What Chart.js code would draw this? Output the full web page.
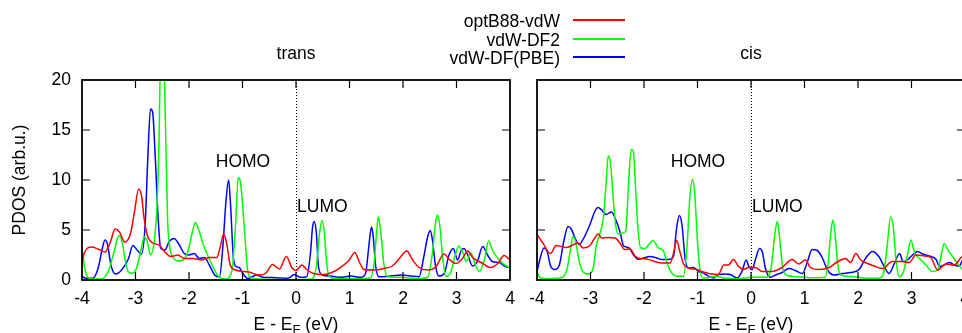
<!DOCTYPE html>
<html><head><meta charset="utf-8">
<script src="https://cdn.jsdelivr.net/npm/chart.js@4.4.1/dist/chart.umd.min.js"></script>
<style>
html,body{margin:0;padding:0;background:#fff;}
body{width:962px;height:333px;overflow:hidden;position:relative;font-family:"Liberation Sans",Arial,sans-serif;color:#000;}
canvas{position:absolute;top:0;}
#cTrans{left:0;}
#cCis{left:520px;}
.leg{position:absolute;left:340px;width:220px;text-align:right;font-size:17.5px;line-height:20px;white-space:nowrap;}
.sw{position:absolute;left:573px;width:52px;height:2px;}
.xt{position:absolute;top:313.5px;width:200px;text-align:center;font-size:17.5px;line-height:20px;white-space:nowrap;}
.xt sub{font-size:13px;vertical-align:-4px;line-height:0;}
</style></head>
<body>
<canvas id="cTrans" width="520" height="333"></canvas>
<canvas id="cCis" width="451" height="333"></canvas>
<div class="leg" style="top:10.5px">optB88-vdW</div>
<div class="leg" style="top:29.5px">vdW-DF2</div>
<div class="leg" style="top:48px">vdW-DF(PBE)</div>
<div class="sw" style="top:19px;background:#ff0000"></div>
<div class="sw" style="top:38px;background:#00ff00"></div>
<div class="sw" style="top:56px;background:#0000ff"></div>
<div class="xt" style="left:196px">E - E<sub>F</sub> (eV)</div>
<div class="xt" style="left:651px">E - E<sub>F</sub> (eV)</div>
<script>
// ---- data: [E - E_F (eV), PDOS (arb.u.)] ----
const seriesNames = ['optB88-vdW', 'vdW-DF2', 'vdW-DF(PBE)'];
const panelTitles = ['trans', 'cis'];
const xTickRange = [-4, 4];
const yTickRange = [0, 20];

const transOpt = [[-4,1.4],[-3.98,2.3],[-3.82,3.3],[-3.7,3.1],[-3.57,2.8],[-3.47,3.8],[-3.38,5.1],[-3.3,4.8],[-3.2,3.8],[-3.09,4.7],[-3.02,6.8],[-2.94,9.1],[-2.89,8.5],[-2.84,6.2],[-2.78,4.5],[-2.68,3.7],[-2.56,3.5],[-2.45,2.8],[-2.34,2.35],[-2.21,2.5],[-2.08,2.15],[-1.92,2.15],[-1.77,2.0],[-1.61,2.25],[-1.48,2.25],[-1.42,3.2],[-1.35,4.6],[-1.29,3.5],[-1.23,1.5],[-1.13,1.0],[-0.88,0.8],[-0.69,0.5],[-0.56,0.7],[-0.44,1.55],[-0.31,1.1],[-0.18,2.35],[-0.08,1.25],[0,0.95],[0.11,1.5],[0.2,1.05],[0.33,0.65],[0.52,0.55],[0.71,0.85],[0.89,1.5],[0.99,1.95],[1.1,2.75],[1.18,1.85],[1.27,1.05],[1.46,1.0],[1.64,1.15],[1.8,1.4],[1.93,2.15],[2.07,2.9],[2.18,2.0],[2.3,1.25],[2.46,1.0],[2.61,1.3],[2.77,2.6],[2.86,2.1],[2.99,1.65],[3.11,2.15],[3.21,2.9],[3.3,2.25],[3.46,1.75],[3.64,1.25],[3.77,1.65],[3.89,2.45],[4,2.0]];
const transDF2 = [[-4,3.2],[-3.95,1.2],[-3.89,0.25],[-3.8,0.1],[-3.64,0.1],[-3.51,0.85],[-3.4,2.85],[-3.31,4.45],[-3.25,3.85],[-3.2,2.2],[-3.14,0.85],[-3.06,0.65],[-2.97,1.35],[-2.89,3.2],[-2.84,4.3],[-2.78,3.85],[-2.72,2.5],[-2.65,3.85],[-2.6,7.2],[-2.56,14],[-2.54,20.5],[-2.5,24],[-2.46,20.5],[-2.43,13],[-2.4,6],[-2.36,3.3],[-2.3,2.3],[-2.2,1.9],[-2.11,2.0],[-2.02,2.85],[-1.92,5.2],[-1.88,5.75],[-1.83,5.2],[-1.73,3.5],[-1.64,2.35],[-1.54,1.2],[-1.45,0.35],[-1.32,0.1],[-1.2,0.85],[-1.13,5.5],[-1.08,10.25],[-1.04,9.85],[-0.97,5.5],[-0.91,1.2],[-0.85,0.25],[-0.69,0.1],[-0.4,0.05],[-0.1,0.05],[0.27,0.07],[0.38,1.35],[0.44,4.7],[0.49,5.95],[0.53,4.7],[0.58,1.35],[0.64,0.27],[0.83,0.13],[1.14,0.13],[1.39,0.2],[1.46,1.7],[1.51,5.0],[1.54,6.3],[1.58,5.0],[1.64,1.7],[1.71,0.33],[1.96,0.27],[2.27,0.13],[2.46,0.27],[2.55,2.7],[2.6,5.35],[2.64,6.5],[2.69,5.35],[2.74,2.35],[2.8,0.35],[2.89,0.7],[2.97,2.35],[3.04,3.4],[3.11,2.85],[3.18,1.85],[3.27,2.7],[3.36,1.4],[3.43,0.85],[3.52,2.0],[3.6,3.9],[3.67,3.0],[3.8,2.0],[3.93,1.4],[4,1.3]];
const transPBE = [[-4,0.35],[-3.92,0.17],[-3.8,0.17],[-3.7,1.15],[-3.62,3.15],[-3.57,4.0],[-3.52,3.5],[-3.46,1.5],[-3.37,0.6],[-3.26,1.0],[-3.13,2.15],[-3.05,3.45],[-2.97,3.0],[-2.89,2.6],[-2.82,5.5],[-2.77,12.2],[-2.72,17.1],[-2.68,16.8],[-2.63,12.2],[-2.58,6.5],[-2.53,3.2],[-2.45,3.0],[-2.37,3.85],[-2.28,4.15],[-2.18,3.5],[-2.09,2.65],[-2.0,2.5],[-1.9,2.65],[-1.81,2.15],[-1.71,2.25],[-1.62,1.5],[-1.52,0.5],[-1.43,0.3],[-1.37,3.15],[-1.31,7.8],[-1.26,10.0],[-1.22,7.2],[-1.17,2.2],[-1.12,1.35],[-1.06,1.25],[-1.0,0.7],[-0.9,0.15],[-0.74,0.5],[-0.59,0.25],[-0.46,0.25],[-0.31,0.2],[-0.15,0.17],[-0.03,0.55],[0.08,0.27],[0.2,0.33],[0.27,2.65],[0.31,5.3],[0.34,5.85],[0.38,4.7],[0.42,1.35],[0.49,0.5],[0.64,0.4],[0.83,0.27],[1.02,0.4],[1.21,0.27],[1.3,0.65],[1.36,3.3],[1.41,5.3],[1.44,4.5],[1.49,1.35],[1.55,0.33],[1.77,0.4],[1.96,0.5],[2.14,0.4],[2.3,0.33],[2.39,2.35],[2.46,4.3],[2.51,4.95],[2.55,4.0],[2.61,1.35],[2.67,0.4],[2.77,0.65],[2.86,2.5],[2.94,3.15],[3.02,2.0],[3.08,2.85],[3.14,3.15],[3.21,2.5],[3.3,1.4],[3.39,1.85],[3.49,3.35],[3.58,2.5],[3.67,1.85],[3.8,1.75],[3.93,1.3],[4,1.3]];

const cisOpt = [[-4,4.55],[-3.89,3.7],[-3.75,2.65],[-3.64,3.45],[-3.54,3.35],[-3.45,3.25],[-3.33,3.5],[-3.23,3.7],[-3.14,3.2],[-3.01,3.45],[-2.92,4.2],[-2.86,4.6],[-2.79,4.2],[-2.67,4.25],[-2.54,4.2],[-2.45,3.7],[-2.36,3.05],[-2.26,3.1],[-2.17,2.4],[-2.07,2.15],[-1.95,2.1],[-1.83,1.9],[-1.67,1.7],[-1.51,1.7],[-1.44,2.85],[-1.39,3.95],[-1.33,2.85],[-1.26,1.6],[-1.17,1.2],[-1.01,1.05],[-0.89,0.8],[-0.73,0.6],[-0.61,0.55],[-0.51,1.5],[-0.42,1.5],[-0.33,2.05],[-0.23,1.35],[-0.14,1.05],[-0.05,1.25],[0.08,1.25],[0.21,0.85],[0.39,0.85],[0.58,1.25],[0.77,2.05],[0.89,1.6],[1.02,2.0],[1.11,1.25],[1.27,1.05],[1.46,1.25],[1.61,1.8],[1.77,2.15],[1.86,1.75],[1.96,2.65],[2.05,2.0],[2.18,1.65],[2.3,1.4],[2.46,1.15],[2.64,1.85],[2.8,1.85],[2.96,1.75],[3.08,2.5],[3.24,2.4],[3.36,2.25],[3.49,1.0],[3.64,1.6],[3.8,1.5],[3.93,2.25],[4,2.4]];
const cisDF2 = [[-4,0.85],[-3.94,0.2],[-3.83,0.13],[-3.58,0.2],[-3.45,0.85],[-3.38,2.85],[-3.33,4.35],[-3.28,3.85],[-3.21,1.85],[-3.14,0.8],[-3.04,0.6],[-2.95,1.2],[-2.89,3.5],[-2.83,4.5],[-2.76,6.2],[-2.71,9.5],[-2.67,12.4],[-2.63,11.9],[-2.58,8.5],[-2.53,5.5],[-2.48,4.6],[-2.4,4.7],[-2.34,4.9],[-2.29,9.5],[-2.24,13.05],[-2.2,12.9],[-2.16,9.5],[-2.11,4.9],[-2.06,3.2],[-1.98,3.15],[-1.89,3.7],[-1.83,3.95],[-1.73,3.2],[-1.64,2.95],[-1.56,1.55],[-1.48,0.7],[-1.39,0.37],[-1.26,0.37],[-1.19,3.85],[-1.14,8.5],[-1.09,10.05],[-1.05,8.5],[-1.0,3.85],[-0.95,0.85],[-0.89,0.2],[-0.64,0.37],[-0.51,0.2],[-0.26,0.13],[0.02,0.27],[0.27,0.27],[0.38,1.35],[0.44,4.35],[0.49,5.85],[0.53,4.5],[0.59,1.35],[0.66,0.5],[0.89,0.33],[1.14,0.23],[1.39,0.27],[1.44,1.65],[1.49,4.65],[1.53,6.0],[1.57,4.65],[1.62,1.65],[1.68,0.5],[1.96,0.33],[2.14,0.17],[2.39,0.17],[2.49,1.0],[2.55,3.65],[2.61,6.3],[2.66,5.3],[2.71,2.0],[2.77,0.33],[2.84,0.67],[2.93,2.65],[2.99,4.0],[3.05,2.85],[3.11,2.35],[3.18,2.0],[3.27,1.5],[3.39,0.85],[3.49,1.0],[3.55,2.35],[3.61,3.65],[3.68,3.0],[3.77,2.35],[3.86,1.65],[3.94,1.15],[4,1.0]];
const cisPBE = [[-4,0.85],[-3.94,2.2],[-3.87,3.2],[-3.81,2.85],[-3.75,1.45],[-3.67,1.05],[-3.58,1.55],[-3.5,3.85],[-3.42,5.35],[-3.36,5.1],[-3.29,4.2],[-3.21,3.55],[-3.14,4.05],[-3.01,5.55],[-2.92,6.85],[-2.86,7.25],[-2.79,7.0],[-2.71,6.55],[-2.61,6.8],[-2.53,6.05],[-2.45,4.85],[-2.38,3.4],[-2.29,3.25],[-2.2,2.55],[-2.11,2.05],[-2.01,2.2],[-1.89,2.35],[-1.79,2.25],[-1.67,2.05],[-1.54,2.05],[-1.45,2.35],[-1.39,5.2],[-1.34,6.45],[-1.29,5.5],[-1.23,2.05],[-1.17,1.2],[-1.08,1.25],[-0.98,0.85],[-0.89,0.7],[-0.79,0.37],[-0.7,0.2],[-0.61,0.55],[-0.48,0.6],[-0.39,0.55],[-0.26,0.2],[-0.17,0.85],[-0.09,2.0],[-0.04,1.35],[0.02,1.05],[0.08,2.0],[0.16,3.15],[0.21,2.85],[0.27,1.15],[0.36,0.27],[0.46,0.5],[0.58,0.75],[0.71,1.15],[0.83,0.95],[0.96,0.65],[1.05,1.75],[1.14,3.05],[1.24,2.95],[1.33,2.25],[1.43,1.0],[1.55,0.5],[1.71,0.65],[1.86,0.75],[2.02,1.05],[2.14,2.15],[2.27,2.85],[2.39,2.35],[2.49,1.35],[2.58,0.65],[2.68,1.65],[2.78,2.65],[2.84,1.85],[2.93,2.05],[3.02,2.5],[3.11,2.85],[3.21,2.6],[3.33,2.4],[3.46,2.05],[3.52,1.35],[3.61,1.5],[3.71,1.75],[3.8,1.5],[3.89,1.4],[3.96,2.0],[4,2.1]];

// annotation labels: [text, E, PDOS (baseline)]
const annotations = [['HOMO', -1.5, 11.3], ['LUMO', 0.02, 6.8]];

const colors = ['#ff0000', '#00ff00', '#0000ff'];
const FONT = '"Liberation Sans", Arial, Helvetica, sans-serif';
const FS = 17.5;
Chart.defaults.font.family = FONT;
Chart.defaults.font.size = FS;
Chart.defaults.color = '#000';

const framePlugin = {
  id: 'gpFrame',
  beforeDatasetsDraw(chart) {
    const {ctx, chartArea: a, scales: {x}} = chart;
    const px = Math.round(x.getPixelForValue(0)) + 0.5;
    ctx.save();
    ctx.strokeStyle = '#000';
    ctx.lineWidth = 1;
    ctx.setLineDash([1, 2]);
    ctx.beginPath(); ctx.moveTo(px, a.top); ctx.lineTo(px, a.bottom); ctx.stroke();
    ctx.restore();
  },
  afterDatasetsDraw(chart) {
    const {ctx, chartArea: a, scales: {x, y}} = chart;
    ctx.save();
    ctx.strokeStyle = '#000';
    ctx.lineWidth = 1.2;
    const L = 8;
    ctx.beginPath();
    x.ticks.forEach(t => {
      const p = x.getPixelForValue(t.value);
      if (p <= a.left + 1 || p >= a.right - 1) return;
      ctx.moveTo(p, a.bottom); ctx.lineTo(p, a.bottom - L);
      ctx.moveTo(p, a.top); ctx.lineTo(p, a.top + L);
    });
    y.ticks.forEach(t => {
      const p = y.getPixelForValue(t.value);
      if (p <= a.top + 1 || p >= a.bottom - 1) return;
      ctx.moveTo(a.left, p); ctx.lineTo(a.left + L, p);
      ctx.moveTo(a.right, p); ctx.lineTo(a.right - L, p);
    });
    ctx.stroke();
    ctx.lineWidth = 1.8;
    ctx.strokeRect(a.left, a.top, a.right - a.left, a.bottom - a.top);
    ctx.fillStyle = '#000';
    ctx.font = FS + 'px ' + FONT;
    ctx.textAlign = 'left';
    ctx.textBaseline = 'alphabetic';
    annotations.forEach(([txt, ex, ey]) => {
      ctx.fillText(txt, x.getPixelForValue(ex), y.getPixelForValue(ey));
    });
    ctx.restore();
  }
};

function makeChart(id, title, sets, leftWidth, padRight, showY) {
  return new Chart(document.getElementById(id), {
    type: 'line',
    data: {
      datasets: sets.map((s, i) => ({
        label: seriesNames[i],
        data: s.map(p => ({x: p[0], y: p[1]})),
        borderColor: colors[i],
        borderWidth: 1.5,
        pointRadius: 0,
        fill: false,
        cubicInterpolationMode: 'monotone'
      }))
    },
    options: {
      responsive: false,
      animation: false,
      devicePixelRatio: 1,
      layout: {padding: {left: 0, right: padRight, top: 0, bottom: 0}},
      plugins: {
        legend: {display: false},
        tooltip: {enabled: false},
        title: {display: true, text: title, fullSize: false,
                font: {size: FS, weight: 'normal'}, padding: {top: 44, bottom: 15}}
      },
      scales: {
        x: {
          type: 'linear', min: xTickRange[0], max: xTickRange[1],
          grid: {display: false, drawTicks: false},
          border: {display: false},
          ticks: {stepSize: 1, padding: 8.5, maxRotation: 0, autoSkip: false,
                  callback: v => String(v)},
          afterFit: s => { s.height = 53; s.paddingLeft = 0; s.paddingRight = 0; }
        },
        y: {
          min: yTickRange[0], max: yTickRange[1],
          grid: {display: false, drawTicks: false},
          border: {display: false},
          ticks: {stepSize: 5, padding: 11, display: showY},
          title: {display: showY, text: 'PDOS (arb.u.)', padding: {top: 9.5, bottom: 0}},
          afterFit: s => { s.width = leftWidth; }
        }
      }
    },
    plugins: [framePlugin]
  });
}

makeChart('cTrans', panelTitles[0], [transOpt, transDF2, transPBE], 82, 10, true);
makeChart('cCis', panelTitles[1], [cisOpt, cisDF2, cisPBE], 17, 6, false);
</script>
</body></html>
